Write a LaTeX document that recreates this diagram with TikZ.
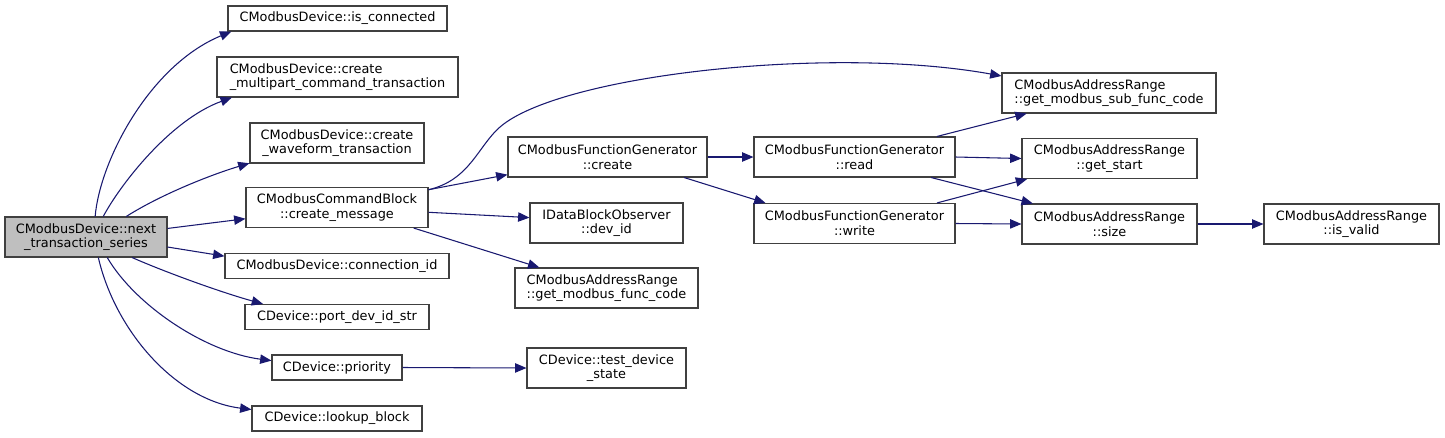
\documentclass[tikz,border=0pt]{standalone}
\usepackage{fontspec}
\setmainfont{DejaVu Sans}
\usetikzlibrary{arrows.meta}
\definecolor{edgeblue}{RGB}{25,25,112}
\definecolor{boxline}{RGB}{64,64,64}
\begin{document}
\begin{tikzpicture}[
    x=0.75pt, y=-0.75pt,
    fn/.style={draw=boxline, fill=white, font=\fontsize{9.65}{11}\selectfont,
        inner xsep=4pt, inner ysep=2pt, minimum height=18.75pt, align=center},
    two/.style={minimum height=30pt},
    call/.style={draw=edgeblue, -{Triangle[length=8.5pt,width=7pt]}},
    line width=0.8pt
]
\useasboundingbox (0,0) rectangle (1445,437);

\node[fn, two, fill=gray!50, minimum width=121.5pt] (root) at (86,237) {CModbusDevice::next\\\_transaction\_series};

\node[fn, minimum width=164.25pt] (isconn) at (337.5,18.5) {CModbusDevice::is\_connected};
\node[fn, two, align=left, minimum width=180.75pt] (multi) at (337.5,77) {CModbusDevice::create\\\_multipart\_command\_transaction};
\node[fn, two, minimum width=130.5pt] (wave) at (337,143) {CModbusDevice::create\\\_waveform\_transaction};
\node[fn, two, minimum width=136.5pt] (msg) at (337,207.5) {CModbusCommandBlock\\::create\_message};
\node[fn, minimum width=168pt] (connid) at (337,266) {CModbusDevice::connection\_id};
\node[fn, minimum width=138pt] (portid) at (337,317) {CDevice::port\_dev\_id\_str};
\node[fn, minimum width=97.5pt] (prio) at (337,367.5) {CDevice::priority};
\node[fn, minimum width=127.5pt] (lookup) at (337,418.5) {CDevice::lookup\_block};

\node[fn, two, minimum width=149.25pt] (create) at (607.5,157) {CModbusFunctionGenerator\\::create};
\node[fn, two, minimum width=114.75pt] (devid) at (606.5,223) {IDataBlockObserver\\::dev\_id};
\node[fn, two, align=left, minimum width=137.25pt] (funccode) at (606.5,288) {CModbusAddressRange\\::get\_modbus\_func\_code};
\node[fn, two, minimum width=119.25pt] (teststate) at (606.5,368) {CDevice::test\_device\\\_state};

\node[fn, two, minimum width=150.75pt] (read) at (854.5,157) {CModbusFunctionGenerator\\::read};
\node[fn, two, minimum width=150.75pt] (write) at (854.5,223.5) {CModbusFunctionGenerator\\::write};

\node[fn, two, align=left, minimum width=160.5pt] (subfunc) at (1109,93) {CModbusAddressRange\\::get\_modbus\_sub\_func\_code};
\node[fn, two, minimum width=131.25pt] (getstart) at (1109.5,158.5) {CModbusAddressRange\\::get\_start};
\node[fn, two, minimum width=131.25pt] (size) at (1109.5,224) {CModbusAddressRange\\::size};
\node[fn, two, minimum width=131.25pt] (isvalid) at (1351.5,224) {CModbusAddressRange\\::is\_valid};

% calls from the root
\draw[call] (root.66) .. controls (100,160) and (150,65) .. (isconn.187);
\draw[call] (root.50) .. controls (120,185) and (170,120) .. (multi.191);
\draw[call] (root.27) .. controls (160,195) and (210,175) .. (wave.193);
\draw[call] (root.6) -- (msg.187);
\draw[call] (root.-7) -- (connid.175);
\draw[call] (root.-24) .. controls (165,272) and (220,292) .. (portid.170);
\draw[call] (root.-44) .. controls (135,305) and (205,352) .. (prio.174);
\draw[call] (root.-59) .. controls (115,330) and (175,400) .. (lookup.174);

% create_message
\draw[call] (msg.11) .. controls (470,180) and (478,146) .. (500,127)
    .. controls (560,75) and (830,45) .. (subfunc.171);
\draw[call] (msg.11) -- (create.190);
\draw[call] (msg.-3) -- (devid.176);
\draw[call] (msg.-15) -- (funccode.163);

% function generator
\draw[call] (create.east) -- (read.west);
\draw[call] (create.-15) -- (write.167);
\draw[call] (read.14) -- (subfunc.194);
\draw[call] (read.east) -- (getstart.west);
\draw[call] (read.-15) -- (size.165);
\draw[call] (write.14) -- (getstart.194);
\draw[call] (write.east) -- (size.west);
\draw[call] (size.east) -- (isvalid.west);
\draw[call] (prio.east) -- (teststate.west);
\end{tikzpicture}
\end{document}
